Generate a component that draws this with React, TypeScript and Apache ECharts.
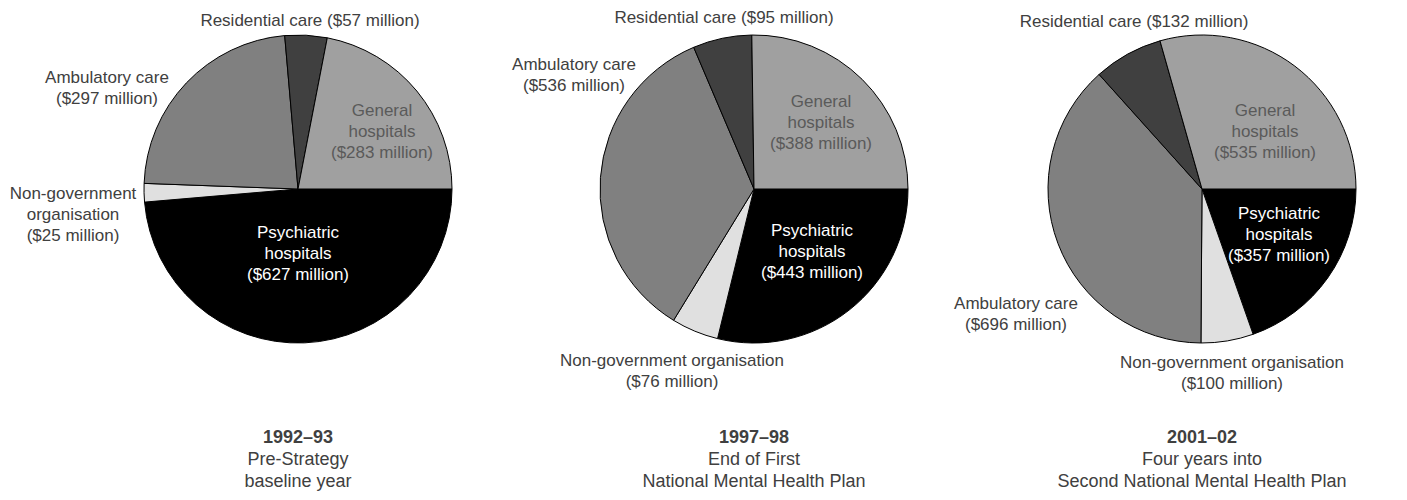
import React, { useEffect, useRef } from "react";
import * as echarts from "echarts";

// Data (clockwise order starting at 3 o'clock)
const categories = [
  "Psychiatric hospitals",
  "Non-government organisation",
  "Ambulatory care",
  "Residential care",
  "General hospitals",
];
const values1992 = [627, 25, 297, 57, 283];
const values1997 = [443, 76, 536, 95, 388];
const values2001 = [357, 100, 696, 132, 535];

const periodYears = ["1992–93", "1997–98", "2001–02"];
const periodLine1 = ["Pre-Strategy", "End of First", "Four years into"];
const periodLine2 = ["baseline year", "National Mental Health Plan", "Second National Mental Health Plan"];

// Label name text (line breaks) per pie
const labelNames1 = ["Psychiatric\nhospitals", "Non-government\norganisation", "Ambulatory care", "Residential care", "General\nhospitals"];
const labelNames2 = ["Psychiatric\nhospitals", "Non-government organisation", "Ambulatory care", "Residential care", "General\nhospitals"];
const labelNames3 = ["Psychiatric\nhospitals", "Non-government organisation", "Ambulatory care", "Residential care", "General\nhospitals"];
// whether the value goes on same line as name
const sameLine = [false, false, false, true, false];
const insideLabel = [true, false, false, false, true];

// Layout / styles
const FONT = "'Liberation Sans', Arial, Helvetica, sans-serif";
const sliceColors = ["#000000", "#e0e0e0", "#808080", "#404040", "#a0a0a0"];
const labelColors = ["#ffffff", "#404040", "#404040", "#404040", "#5a5a5a"];
const centers = [[298, 189], [754, 189], [1202, 189]];
const RADIUS = 154;
const labelPos = [
  [[298, 253], [73, 214], [107, 88], [310, 20], [382, 131]],
  [[812, 251], [672, 371], [574, 75], [724, 17], [821, 122]],
  [[1279, 234], [1232, 373], [1016, 314], [1134, 21], [1265, 131]],
];
const titleY = [437, 459, 481];

export default function App() {
  const ref = useRef<HTMLDivElement>(null);
  useEffect(() => {
    if (!ref.current) return;
    const chart = echarts.init(ref.current, null, { renderer: "svg" });
    const allValues = [values1992, values1997, values2001];
    const allNames = [labelNames1, labelNames2, labelNames3];
    const series = allValues.map((vals, si) => ({
      type: "pie",
      center: centers[si],
      radius: RADIUS,
      startAngle: 0,
      clockwise: true,
      silent: true,
      avoidLabelOverlap: false,
      emphasis: { disabled: true },
      labelLine: { show: false },
      labelLayout: (params: any) => {
        const p = labelPos[si][params.dataIndex];
        return { x: p[0], y: p[1], align: "center", verticalAlign: "middle", hideOverlap: false };
      },
      data: vals.map((v, i) => ({
        name: categories[i],
        value: v,
        itemStyle: { color: sliceColors[i], borderColor: "#000", borderWidth: 1 },
        labelLine: { show: false },
        label: {
          show: true,
          position: insideLabel[i] ? "inside" : "outside",
          formatter: allNames[si][i] + (sameLine[i] ? " " : "\n") + "($" + v + " million)",
          color: labelColors[i],
          fontSize: 17,
          lineHeight: 21,
          fontFamily: FONT,
          align: "center",
        },
      })),
    }));
    const graphics: any[] = [];
    centers.forEach((c, i) => {
      graphics.push({
        type: "text",
        x: c[0],
        y: titleY[0],
        style: { text: periodYears[i], align: "center", verticalAlign: "middle", fontSize: 18, fontWeight: "bold", fontFamily: FONT, fill: "#404040" },
      });
      graphics.push({
        type: "text",
        x: c[0],
        y: titleY[1],
        style: { text: periodLine1[i], align: "center", verticalAlign: "middle", fontSize: 18, fontFamily: FONT, fill: "#404040" },
      });
      graphics.push({
        type: "text",
        x: c[0],
        y: titleY[2],
        style: { text: periodLine2[i], align: "center", verticalAlign: "middle", fontSize: 18, fontFamily: FONT, fill: "#404040" },
      });
    });
    chart.setOption({
      animation: false,
      backgroundColor: "#ffffff",
      series,
      graphic: graphics,
    });
    return () => chart.dispose();
  }, []);
  return (
    <div
      ref={ref}
      style={{ position: "fixed", left: 0, top: 0, width: 1407, height: 500 }}
    />
  );
}
